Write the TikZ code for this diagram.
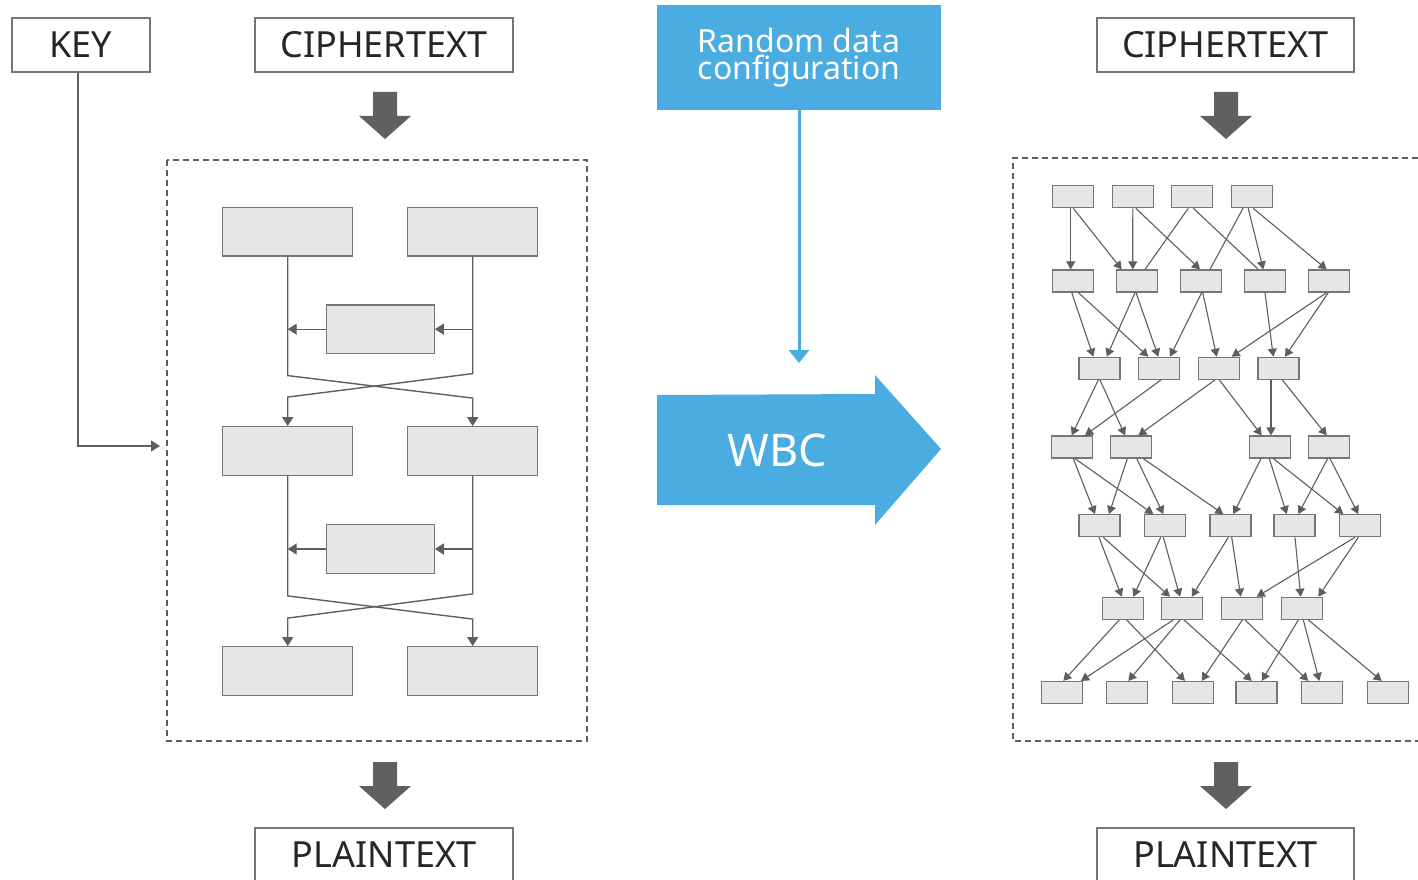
\documentclass[tikz,border=0pt]{standalone}
\usepackage{fontspec}
\setmainfont{Noto Sans}
\usetikzlibrary{arrows.meta,calc}
\definecolor{boxfill}{HTML}{E6E6E6}
\definecolor{boxdraw}{HTML}{767676}
\definecolor{conncol}{HTML}{5E5E5E}
\definecolor{wbcblue}{HTML}{4AACE0}
\definecolor{darkarrow}{HTML}{606060}
\definecolor{txtcol}{HTML}{262626}
\tikzset{
 labelbox/.style={draw=boxdraw, line width=1.2pt, fill=white, minimum height=54pt, inner sep=0pt, text=txtcol, font=\fontsize{36}{40}\selectfont},
 bigbox/.style={draw=boxdraw, fill=boxfill, line width=1.3pt, minimum width=130pt, minimum height=48.5pt, inner sep=0pt},
 midbox/.style={bigbox, minimum width=108pt},
 netbox/.style={draw=boxdraw, fill=boxfill, line width=1.2pt, minimum width=41pt, minimum height=22pt, inner sep=0pt},
 lconn/.style={draw=conncol, line width=1.4pt},
 larr/.style={lconn, -{Triangle[width=11pt,length=9pt]}},
 nline/.style={draw=conncol, line width=1.1pt},
 narr/.style={nline, -{Triangle[width=9pt,length=8pt]}},
 dashbox/.style={draw=conncol, line width=1.2pt, dash pattern=on 6pt off 4pt},
 bluebox/.style={fill=wbcblue, minimum width=284pt, minimum height=105pt, inner sep=0pt, text=white, align=center, font=\fontsize{32}{27}\selectfont},
 bluearr/.style={draw=wbcblue, line width=3pt, -{Triangle[width=20pt,length=13pt]}},
}
\newcommand\netarrow[4]{\draw[narr] ([xshift=#2pt]#1.south) -- ([xshift=#4pt]#3.north);}
\newcommand\netline[4]{\draw[nline] ([xshift=#2pt]#1.south) -- ([xshift=#4pt]#3.north);}
\newcommand\blockdown[2]{\fill[darkarrow] ({#1-12},#2) -- ({#1+12},#2) -- ({#1+12},{#2+24}) -- ({#1+26},{#2+24}) -- (#1,{#2+47}) -- ({#1-26},{#2+24}) -- ({#1-12},{#2+24}) -- cycle;}
\begin{document}
\begin{tikzpicture}[x=1pt,y=-1pt]
\useasboundingbox (0,0) rectangle (1418,880);
\fill[white] (0,0) rectangle (1418,880);

% ---------- left side ----------
\node[labelbox, minimum width=138pt] (key) at (81,45) {KEY};
\node[labelbox, minimum width=258pt] (ct1) at (384,45) {CIPHERTEXT};
\node[labelbox, minimum width=258pt] (pt1) at (384,855) {PLAINTEXT};
\blockdown{385}{92}
\blockdown{385}{762}
\draw[dashbox] (167,160) rectangle (587,741);

\node[bigbox] (tl) at (287.7,231.7) {};
\node[bigbox] (tr) at (472.7,231.7) {};
\node[midbox] (m1) at (380.2,329.2) {};
\node[bigbox] (ml) at (287.7,451) {};
\node[bigbox] (mr) at (472.7,451) {};
\node[midbox] (m2) at (380.2,549) {};
\node[bigbox] (bl) at (287.7,671) {};
\node[bigbox] (br) at (472.7,671) {};

\draw[larr] (tl.south) -- ++(0,119) -- ([yshift=28pt]mr.north) -- (mr.north);
\draw[larr] (tr.south) -- ++(0,117) -- ([yshift=29pt]ml.north) -- (ml.north);
\draw[larr] (m1.west) -- (tl.south |- m1.west);
\draw[larr] (tr.south |- m1.east) -- (m1.east);
\draw[larr] (ml.south) -- ++(0,120) -- ([yshift=27pt]br.north) -- (br.north);
\draw[larr] (mr.south) -- ++(0,118) -- ([yshift=28pt]bl.north) -- (bl.north);
\draw[larr] (m2.west) -- (ml.south |- m2.west);
\draw[larr] (mr.south |- m2.east) -- (m2.east);

\coordinate (keyin) at (160,446);
\draw[larr] ([xshift=-3pt]key.south) |- (keyin);

% ---------- middle ----------
\node[bluebox] (rdc) at (799,57.5) {Random data\\configuration};
\coordinate (wbctop) at (799,363);
\draw[bluearr] (rdc.south) -- (wbctop);
\fill[wbcblue] (657,395) -- (875,394) -- (875,375) -- (941,449) -- (875,525) -- (875,505) -- (657,505) -- cycle;
\node[text=white, inner sep=0pt, font=\fontsize{45}{50}\selectfont] (wbc) at (777,450) {WBC};

% ---------- right side ----------
\node[labelbox, minimum width=257pt] (ct2) at (1225.5,45) {CIPHERTEXT};
\node[labelbox, minimum width=257pt] (pt2) at (1225.5,855) {PLAINTEXT};
\blockdown{1226}{92}
\blockdown{1226}{762}
\draw[dashbox] (1418,158) -- (1013,158) -- (1013,741) -- (1418,741);

\foreach \nm/\x in {a1/1073.3,a2/1132.8,a3/1192.3,a4/1252.2}
  \node[netbox] (\nm) at (\x,196.7) {};
\foreach \nm/\x in {b1/1073.3,b2/1137.2,b3/1201.3,b4/1265.3,b5/1329.3}
  \node[netbox] (\nm) at (\x,281) {};
\foreach \nm/\x in {c1/1099.5,c2/1159,c3/1218.8,c4/1278.5}
  \node[netbox] (\nm) at (\x,368.3) {};
\foreach \nm/\x in {d1/1071.7,d2/1131.3,d3/1269.7,d4/1329.3}
  \node[netbox] (\nm) at (\x,447) {};
\foreach \nm/\x in {e1/1099.5,e2/1164.8,e3/1230.5,e4/1294.5,e5/1359.8}
  \node[netbox] (\nm) at (\x,525.7) {};
\foreach \nm/\x in {f1/1122.8,f2/1182.3,f3/1242,f4/1301.7}
  \node[netbox] (\nm) at (\x,608.3) {};
\foreach \nm/\x in {g1/1062,g2/1127.2,g3/1192.8,g4/1256.5,g5/1322.2,g6/1387.8}
  \node[netbox] (\nm) at (\x,692.5) {};

\netarrow{a1}{-2.6}{b1}{-2.6}
\netarrow{a1}{0}{b2}{-15.5}
\netarrow{a2}{0}{b2}{-4.5}
\netarrow{a2}{3}{b3}{-1.3}
\netline{a3}{-4}{b2}{7.8}
\netline{a3}{1}{b4}{-7}
\netline{a4}{-9.2}{b3}{8.7}
\netarrow{a4}{-4}{b4}{-2}
\netarrow{a4}{1}{b5}{-2.6}

\netarrow{b1}{-1.6}{c1}{-6.2}
\netarrow{b1}{5}{c2}{-10.7}
\netarrow{b2}{-2.2}{c1}{7.2}
\netarrow{b2}{-1.2}{c2}{-0.7}
\netarrow{b3}{0.4}{c2}{11}
\netarrow{b3}{1.4}{c3}{-2.1}
\netarrow{b4}{-0.3}{c4}{-5.2}
\netarrow{b5}{-2.6}{c3}{12.9}
\netarrow{b5}{-1}{c4}{6.5}

\netarrow{c1}{-1.2}{d1}{0}
\netarrow{c1}{0.5}{d2}{-6.3}
\netarrow{c2}{2}{d1}{13.3}
\netarrow{c3}{-3.8}{d2}{7}
\netarrow{c3}{0.5}{d3}{-8}
\netarrow{c4}{-7.5}{d3}{1.3}
\netarrow{c4}{3.8}{d4}{-2.6}

\netarrow{d1}{1.6}{e1}{-4.5}
\netarrow{d1}{3.3}{e2}{-11.5}
\netarrow{d2}{-4}{e1}{9.5}
\netarrow{d2}{5.4}{e2}{-1.5}
\netarrow{d2}{12}{e3}{-7.2}
\netarrow{d3}{-8.7}{e3}{2.8}
\netarrow{d3}{-0.4}{e4}{-7.8}
\netarrow{d3}{3.6}{e5}{-16.5}
\netarrow{d4}{-1.6}{e4}{3.8}
\netarrow{d4}{0.7}{e5}{-1.5}

\netarrow{e1}{-0.5}{f1}{-1.1}
\netarrow{e1}{3.8}{f2}{-12.3}
\netarrow{e2}{-4.1}{f1}{10.5}
\netarrow{e2}{-1.5}{f2}{-2.3}
\netarrow{e3}{-2.2}{f2}{9.4}
\netarrow{e3}{1.2}{f3}{-1.3}
\netarrow{e4}{0.5}{f4}{-1}
\netarrow{e5}{-4.8}{f3}{14.7}
\netarrow{e5}{-1.5}{f4}{16.6}

\netarrow{f1}{-3.5}{g1}{1.3}
\netarrow{f1}{3.9}{g3}{-7.8}
\netarrow{f2}{-9}{g1}{19}
\netarrow{f2}{-2.3}{g2}{1.1}
\netarrow{f2}{1.7}{g4}{-4.8}
\netarrow{f3}{0.3}{g3}{8.9}
\netarrow{f3}{3}{g5}{-13.9}
\netarrow{f4}{-3.4}{g4}{5.2}
\netarrow{f4}{1.6}{g5}{-2.9}
\netarrow{f4}{6.6}{g6}{-6.1}
\end{tikzpicture}
\end{document}
